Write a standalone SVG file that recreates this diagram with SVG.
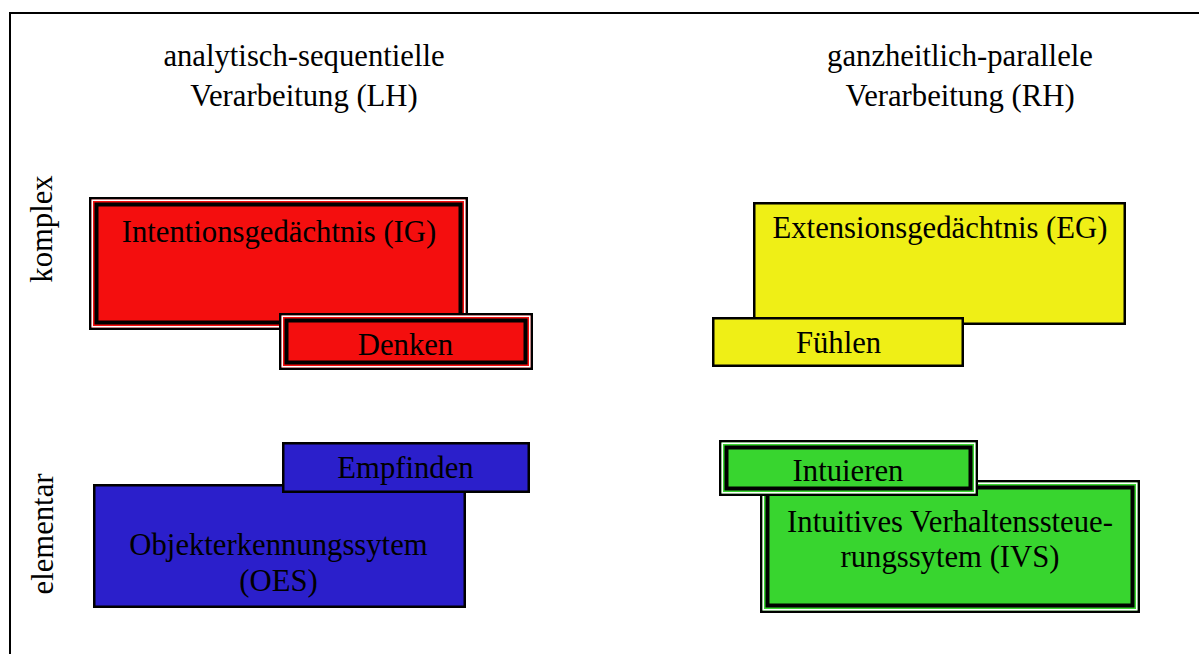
<svg xmlns="http://www.w3.org/2000/svg" width="1199" height="654" viewBox="0 0 1199 654">
<style>
text{font-family:"Liberation Serif","Times New Roman",serif;font-size:30.7px;fill:#000;text-anchor:middle}
.o{stroke:#000;stroke-width:2.5}
.w{fill:none;stroke:#fff;stroke-width:1.5}
.t{fill:none;stroke:#000;stroke-width:4}
.red{fill:#F40E0E}
.yel{fill:#EFEF16}
.blu{fill:#2B1FCB}
.grn{fill:#38D52F}
</style>
<rect width="1199" height="654" fill="#fff"/>
<path d="M10,654 V13 H1199" fill="none" stroke="#000" stroke-width="2"/>
<g id="header-lh"><text x="304" y="66">analytisch-sequentielle</text><text x="304" y="106">Verarbeitung (LH)</text></g>
<g id="header-rh"><text x="960" y="66">ganzheitlich-parallele</text><text x="960" y="106">Verarbeitung (RH)</text></g>
<g id="label-komplex"><text transform="translate(52,229) rotate(-90)">komplex</text></g>
<g id="label-elementar"><text transform="translate(53,534) rotate(-90)">elementar</text></g>
<g id="IG">
<rect class="o red" x="90.25" y="198.25" width="376.5" height="130.5"/>
<rect class="w" x="92.25" y="200.25" width="372.5" height="126.5"/>
<rect class="t" x="96.5" y="204.5" width="364" height="118"/>
<text x="279" y="242">Intentionsgedächtnis (IG)</text>
</g>
<g id="Denken">
<rect class="o red" x="280.25" y="314.25" width="251.5" height="54.5"/>
<rect class="w" x="282.25" y="316.25" width="247.5" height="50.5"/>
<rect class="t" x="286.5" y="320.5" width="239" height="42"/>
<text x="405.5" y="355">Denken</text>
</g>
<g id="EG">
<rect class="o yel" x="754.25" y="203.25" width="370.5" height="120.5"/>
<text x="940" y="238">Extensionsgedächtnis (EG)</text>
</g>
<g id="Fuehlen">
<rect class="o yel" x="713.25" y="318.25" width="249.5" height="47.5"/>
<text x="838.5" y="353">Fühlen</text>
</g>
<g id="OES">
<rect class="o blu" x="94.25" y="485.25" width="370.5" height="121.5"/>
<text x="278.5" y="555">Objekterkennungssytem</text>
<text x="278.5" y="591">(OES)</text>
</g>
<g id="Empfinden">
<rect class="o blu" x="283.25" y="443.25" width="245.5" height="48.5"/>
<text x="405.5" y="478">Empfinden</text>
</g>
<g id="IVS">
<rect class="o grn" x="761.25" y="481.25" width="377.5" height="130.5"/>
<rect class="w" x="763.25" y="483.25" width="373.5" height="126.5"/>
<rect class="t" x="767.5" y="487.5" width="365" height="118"/>
<text x="950" y="532">Intuitives Verhaltenssteue-</text>
<text x="950" y="567">rungssytem (IVS)</text>
</g>
<g id="Intuieren">
<rect class="o grn" x="720.25" y="441.25" width="256.5" height="53.5"/>
<rect class="w" x="722.25" y="443.25" width="252.5" height="49.5"/>
<rect class="t" x="726.5" y="447.5" width="244" height="41"/>
<text x="848" y="481">Intuieren</text>
</g>
</svg>
